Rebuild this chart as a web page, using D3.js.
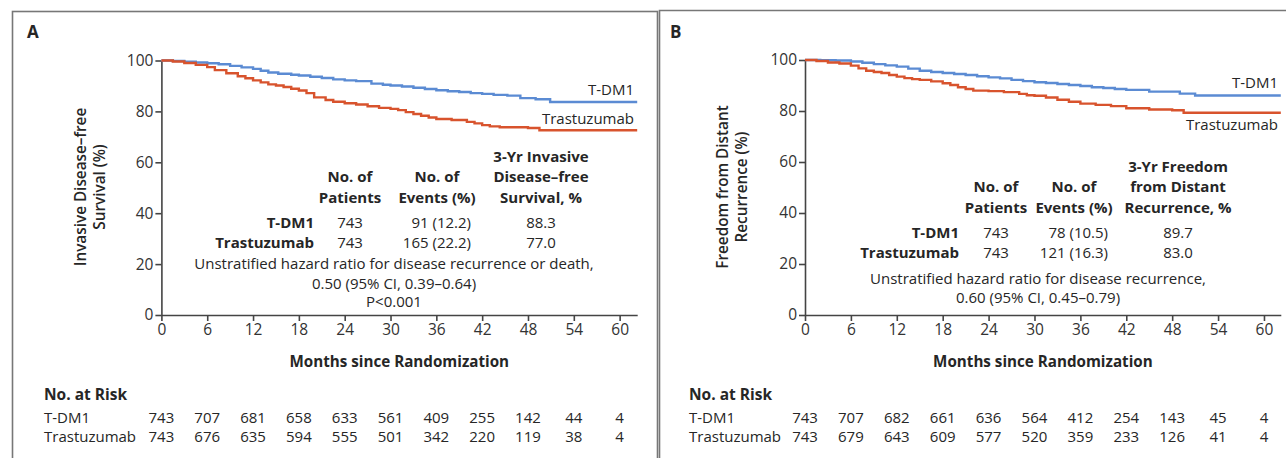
<!DOCTYPE html>
<html>
<head>
<meta charset="utf-8">
<script src="https://cdn.jsdelivr.net/npm/d3@7"></script>
<style>
  body { margin: 0; background: #fff; }
  svg { display: block; font-family: "Open Sans", "Noto Sans", sans-serif; }
</style>
</head>
<body>
<svg></svg>
<script>
// ---- data ----
const months = [0, 6, 12, 18, 24, 30, 36, 42, 48, 54, 60]
const yTicks = [0, 20, 40, 60, 80, 100]
const groups = ["T-DM1", "Trastuzumab"]

// panel A: invasive disease-free survival (%)
const idfsTdm1 = [[0,100],[1.5,99.8],[3,99.5],[4.5,99.2],[6,98.9],[7.5,98.5],[9,97.9],[10.5,97.3],[12,96.7],[13,96.0],[14,95.3],[15.3,94.8],[17,94.4],[18,94.1],[19.5,93.6],[21,93.1],[22.5,92.6],[24,92.2],[25.5,91.9],[27.5,90.9],[29,90.5],[30,90.2],[31.5,89.8],[33,89.3],[34.5,88.8],[36,88.3],[37.5,87.9],[39,87.6],[40.5,87.2],[42,86.9],[43.5,86.5],[45.3,86.2],[47,85.2],[49,84.8],[50.9,83.7],[62.3,83.7]]
const idfsTras = [[0,100],[1.5,99.6],[3,99],[4.5,98.3],[6,97.4],[7,96.2],[8.5,95],[10,93.8],[11,93],[12,92.2],[13,91.4],[14,90.6],[15,90.2],[16,89.6],[17,88.9],[18,88.2],[19,87.2],[20,85.5],[21.5,84.5],[22.5,83.8],[24,83.2],[25.5,82.7],[27,82],[28.5,81.4],[30,81],[31,80.5],[32,79.7],[33,79],[34,78.3],[35,77.6],[36,77.0],[38,76.6],[40,75.9],[41,75.3],[42,74.6],[43,74.1],[44.3,73.8],[48,73.5],[49.5,72.6],[62.3,72.6]]

// panel B: freedom from distant recurrence (%)
const ddfsTdm1 = [[0,100],[2,99.9],[4,99.8],[6,99.4],[7.5,98.9],[9,98.4],[10.5,97.9],[12,97.4],[13.5,96.6],[15,95.8],[16.5,95.3],[18,94.9],[19.5,94.5],[21,94.1],[22.5,93.6],[24,93.2],[25.5,92.8],[27,92.2],[28.5,91.7],[30,91.3],[31.5,91.0],[33,90.6],[34.5,90.2],[36,89.8],[37.5,89.3],[39,89.0],[40.5,88.6],[42,88.3],[45,87.6],[49,86.8],[51,86.1],[62.2,86.1]]
const ddfsTras = [[0,100],[1.5,99.6],[3,99.0],[4.5,98.6],[6,97.8],[7,96.7],[8,95.8],[9,95.3],[10,94.9],[11,94.1],[12,93.5],[13,92.9],[14,92.5],[15,92.2],[16.5,91.6],[18,90.9],[19,90.2],[20,89.3],[21,88.6],[22,88],[24,87.8],[26,87.4],[28,86.7],[29,86.2],[30,86],[31.5,85.3],[33,84.4],[34.5,83.6],[36,82.9],[38,82.4],[40,81.9],[42,81.1],[45,80.6],[48,80.3],[49.5,79.3],[62.2,79.3]]

// no. at risk
const riskA_tdm1 = [743, 707, 681, 658, 633, 561, 409, 255, 142, 44, 4]
const riskA_tras = [743, 676, 635, 594, 555, 501, 342, 220, 119, 38, 4]
const riskB_tdm1 = [743, 707, 682, 661, 636, 564, 412, 254, 143, 45, 4]
const riskB_tras = [743, 679, 643, 609, 577, 520, 359, 233, 126, 41, 4]

// inset tables
const patientsA = ["743", "743"]
const eventsA = ["91 (12.2)", "165 (22.2)"]
const rateA = ["88.3", "77.0"]
const patientsB = ["743", "743"]
const eventsB = ["78 (10.5)", "121 (16.3)"]
const rateB = ["89.7", "83.0"]

const blue = "#5b8bd3"
const red = "#d8532d"
const ink = "#262626"

let width = 1286
let height = 458

let svg = d3.select("svg").attr("width", width).attr("height", height)

// frames
svg.append("rect")
    .attr("x", 12.5).attr("y", 11.5)
    .attr("width", 645).attr("height", 470)
    .attr("fill", "none").attr("stroke", "#777").attr("stroke-width", 1.6)
svg.append("path")
    .attr("d", "M659.5,458V10.5H1290")
    .attr("fill", "none").attr("stroke", "#777").attr("stroke-width", 1.6)

const txt = (x, y, s, opts = {}) => {
    return svg.append("text")
        .attr("x", x).attr("y", y)
        .attr("text-anchor", opts.anchor || "start")
        .attr("font-size", opts.size || 15)
        .attr("font-weight", opts.weight || "normal")
        .attr("fill", ink)
        .text(s)
}

const drawPanel = (p) => {
    let xScale = d3.scaleLinear().domain([0, p.xMax]).range([p.x0, p.x1])
    let yScale = d3.scaleLinear().domain([0, 100]).range([p.y0, p.y1])

    // axes
    let xAxis = d3.axisBottom(xScale).tickValues(months).tickSize(6).tickSizeOuter(0).tickPadding(3)
    let yAxis = d3.axisLeft(yScale).tickValues(yTicks).tickSize(6).tickSizeOuter(0).tickPadding(2)

    let gx = svg.append("g")
        .attr("transform", "translate(0," + p.y0 + ")")
        .call(xAxis)
    let gy = svg.append("g")
        .attr("transform", "translate(" + p.x0 + ",0)")
        .call(yAxis)
    ;[gx, gy].forEach(g => {
        g.attr("font-family", null).attr("font-size", 15.5)
        g.selectAll("path, line").attr("stroke", "#444").attr("stroke-width", 1.6)
        g.selectAll("text").attr("fill", "#333")
    })

    // curves
    let line = d3.line()
        .x(d => xScale(d[0]))
        .y(d => yScale(d[1]))
        .curve(d3.curveStepAfter)

    p.curves.forEach((c, i) => {
        svg.append("path")
            .datum(c)
            .attr("fill", "none")
            .attr("stroke", i === 0 ? blue : red)
            .attr("stroke-width", 2.4)
            .attr("d", line)
    })

    // curve labels
    txt(p.labelX, p.labelY[0] + 5, groups[0], { anchor: "end" })
    txt(p.labelX, p.labelY[1] + 5, groups[1], { anchor: "end" })

    // panel letter
    txt(p.letterX, 38, p.letter, { size: 17, weight: "bold" })

    // y title
    let ty = svg.append("text")
        .attr("transform", "translate(" + p.yTitleX + "," + p.yTitleY + ") rotate(-90)")
        .attr("text-anchor", "middle")
        .attr("font-size", 15.3)
        .attr("font-weight", 600)
        .attr("fill", ink)
    ty.append("tspan").attr("x", 0).attr("dy", 0).text(p.yTitle[0])
    ty.append("tspan").attr("x", 0).attr("dy", 18.5).text(p.yTitle[1])

    // x title
    txt((p.x0 + p.x1) / 2, 367, "Months since Randomization", { anchor: "middle", size: 15.2, weight: "bold" })

    // inset table
    let t = p.table
    const head = (lines, x) => lines.forEach((s, i) =>
        txt(x, t.rowY[0] - 20.5 * (lines.length - i) - 5 + 5, s, { anchor: "middle", weight: "bold" }))
    head(t.head1, t.colX[0])
    head(t.head2, t.colX[1])
    head(t.head3, t.colX[2])
    groups.forEach((g, i) => {
        let y = t.rowY[i] + 5
        txt(t.labelX, y, g, { anchor: "end", weight: "bold" })
        txt(t.colX[0], y, t.patients[i], { anchor: "middle" })
        txt(t.eventsRight, y, t.events[i], { anchor: "end" })
        txt(t.colX[2], y, t.rate[i], { anchor: "middle" })
    })
    t.note.forEach((s, i) => txt(t.noteX, t.noteY[i] + 5, s, { anchor: "middle" }))

    // no. at risk
    txt(p.riskX, 400, "No. at Risk", { size: 15.5, weight: "bold" })
    p.risk.forEach((row, r) => {
        let y = 423 + r * 19
        txt(p.riskX, y, groups[r])
        row.forEach((v, i) => txt(xScale(months[i]), y, v, { anchor: "middle" }))
    })
}

drawPanel({
    letter: "A", letterX: 27,
    x0: 161.4, x1: 637.2, xMax: 62.3, y0: 315, y1: 60.5,
    curves: [idfsTdm1, idfsTras],
    labelX: 634, labelY: [90, 119],
    yTitle: ["Invasive Disease\u2013free", "Survival (%)"], yTitleX: 86, yTitleY: 187,
    table: {
        colX: [350, 437, 541], labelX: 314, eventsRight: 471,
        rowY: [223, 243],
        head1: ["No. of", "Patients"],
        head2: ["No. of", "Events (%)"],
        head3: ["3-Yr Invasive", "Disease\u2013free", "Survival, %"],
        patients: patientsA, events: eventsA, rate: rateA,
        note: ["Unstratified hazard ratio for disease recurrence or death,", "0.50 (95% CI, 0.39\u20130.64)", "P<0.001"],
        noteX: 394, noteY: [264, 284, 302]
    },
    riskX: 44,
    risk: [riskA_tdm1, riskA_tras]
})

drawPanel({
    letter: "B", letterX: 670,
    x0: 805, x1: 1280.8, xMax: 62.2, y0: 315, y1: 60,
    curves: [ddfsTdm1, ddfsTras],
    labelX: 1278, labelY: [83, 125],
    yTitle: ["Freedom from Distant", "Recurrence (%)"], yTitleX: 728, yTitleY: 187,
    table: {
        colX: [996, 1074, 1178], labelX: 959, eventsRight: 1108,
        rowY: [233, 253],
        head1: ["No. of", "Patients"],
        head2: ["No. of", "Events (%)"],
        head3: ["3-Yr Freedom", "from Distant", "Recurrence, %"],
        patients: patientsB, events: eventsB, rate: rateB,
        note: ["Unstratified hazard ratio for disease recurrence,", "0.60 (95% CI, 0.45\u20130.79)"],
        noteX: 1038, noteY: [279, 298]
    },
    riskX: 689,
    risk: [riskB_tdm1, riskB_tras]
})
</script>
</body>
</html>
